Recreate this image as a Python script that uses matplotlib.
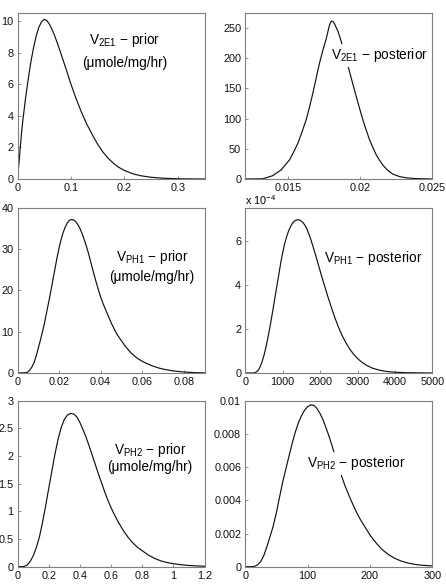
import matplotlib
matplotlib.use("Agg")
import matplotlib.pyplot as plt
from matplotlib.ticker import FuncFormatter

plt.rcParams['font.family'] = ['Liberation Sans', 'DejaVu Sans']
plt.rcParams['mathtext.fontset'] = 'custom'
plt.rcParams['mathtext.rm'] = 'Liberation Sans'

# ---- data ----
v2e1_prior_x = [0, 0.0025, 0.005, 0.0075, 0.01, 0.0125, 0.015, 0.02, 0.025, 0.03, 0.035, 0.04,
                0.045, 0.05, 0.055, 0.06, 0.065, 0.07, 0.075, 0.08, 0.09, 0.1, 0.11, 0.12,
                0.13, 0.14, 0.15, 0.16, 0.17, 0.18, 0.19, 0.2, 0.215, 0.23, 0.25, 0.27,
                0.29, 0.31, 0.33, 0.35]
v2e1_prior_y = [0, 0.9, 1.9, 2.9, 3.7, 4.4, 5.1, 6.3, 7.4, 8.3, 9.05, 9.6,
                9.95, 10.1, 10.02, 9.78, 9.43, 9.02, 8.56, 8.06, 7.05, 6.0, 5.05, 4.2,
                3.45, 2.8, 2.2, 1.7, 1.3, 0.98, 0.73, 0.54, 0.34, 0.21, 0.11, 0.055,
                0.025, 0.01, 0.004, 0.001]

v2e1_post_x = [0.012, 0.013213, 0.013909, 0.01449, 0.01507, 0.015348, 0.01565, 0.015928,
               0.01623, 0.016462, 0.016694, 0.016926, 0.017158, 0.01739, 0.017622, 0.017761,
               0.017854, 0.017923, 0.017993, 0.018086, 0.018202, 0.018318, 0.018434, 0.01855,
               0.018666, 0.018898, 0.019014, 0.019246, 0.019478, 0.01971, 0.019942, 0.020174,
               0.020406, 0.020638, 0.02087, 0.021102, 0.021334, 0.021566, 0.021914, 0.022262,
               0.022726, 0.02319, 0.023886, 0.025]
v2e1_post_y = [0, 0.3, 5.5, 15, 31.5, 44, 59, 77,
               98, 119, 142, 167, 192, 213, 232, 246,
               255, 259, 261.5, 261, 257, 251, 245, 237,
               228, 208, 198, 178, 157, 137, 117, 98,
               81, 65, 52, 40, 31, 23, 14, 8,
               4, 2, 0.6, 0]

vph1_prior_x = [0, 0.004, 0.005, 0.006, 0.007, 0.008, 0.009, 0.01, 0.011, 0.012, 0.013, 0.014,
                0.015, 0.016, 0.017, 0.018, 0.019, 0.02, 0.021, 0.022, 0.023, 0.024, 0.025,
                0.026, 0.027, 0.028, 0.029, 0.03, 0.031, 0.032, 0.033, 0.034, 0.035, 0.036,
                0.037, 0.038, 0.039, 0.04, 0.041, 0.042, 0.043, 0.044, 0.045, 0.046, 0.047,
                0.048, 0.05, 0.052, 0.054, 0.056, 0.058, 0.06, 0.062, 0.065, 0.068, 0.071,
                0.075, 0.08, 0.085, 0.09]
vph1_prior_y = [0, 0.05, 0.25, 0.75, 1.5, 2.6, 4.1, 6.0, 7.9, 9.9, 12.1, 14.6,
                17.1, 19.7, 22.4, 25.1, 27.8, 30.2, 32.3, 34.0, 35.3, 36.3, 36.9,
                37.1, 37.0, 36.6, 35.9, 35.0, 33.8, 32.4, 30.9, 29.2, 27.3, 25.4,
                23.5, 21.7, 20.0, 18.4, 17.0, 15.8, 14.6, 13.4, 12.2, 11.2, 10.2,
                9.25, 7.8, 6.4, 5.2, 4.25, 3.45, 2.85, 2.33, 1.7, 1.2, 0.85,
                0.5, 0.24, 0.09, 0.02]

vph1_post_x = [0, 200, 250, 300, 350, 400, 450, 500, 550, 600, 650, 700, 750, 800, 850, 900,
               950, 1000, 1050, 1100, 1150, 1200, 1250, 1300, 1350, 1400, 1450, 1500, 1550,
               1600, 1650, 1700, 1750, 1800, 1850, 1900, 1950, 2000, 2050, 2100, 2200, 2300,
               2400, 2500, 2600, 2700, 2800, 2900, 3000, 3100, 3250, 3400, 3600, 3800, 4000,
               4300, 4600, 5000]
vph1_post_y = [0, 0, 0.01, 0.05, 0.13, 0.30, 0.52, 0.80, 1.15, 1.57, 2.0, 2.48, 2.98, 3.5, 4.0, 4.5,
               5.02, 5.46, 5.84, 6.15, 6.4, 6.6, 6.76, 6.86, 6.92, 6.95, 6.93, 6.88, 6.8,
               6.68, 6.51, 6.3, 6.06, 5.79, 5.51, 5.22, 4.93, 4.63, 4.34, 4.06, 3.5, 2.98,
               2.48, 2.04, 1.66, 1.34, 1.07, 0.84, 0.66, 0.51, 0.34, 0.22, 0.12, 0.065, 0.035,
               0.015, 0.006, 0]  # x 1e-4

vph2_prior_x = [0, 0.04, 0.06, 0.08, 0.1, 0.12, 0.14, 0.16, 0.18, 0.2, 0.22, 0.24, 0.26, 0.28,
                0.3, 0.32, 0.34, 0.36, 0.38, 0.4, 0.42, 0.44, 0.46, 0.48, 0.5, 0.52, 0.54,
                0.56, 0.58, 0.6, 0.62, 0.65, 0.68, 0.71, 0.74, 0.77, 0.8, 0.84, 0.88, 0.92,
                0.96, 1.0, 1.05, 1.1, 1.15, 1.2]
vph2_prior_y = [0, 0.003, 0.025, 0.09, 0.19, 0.34, 0.53, 0.79, 1.09, 1.41, 1.72, 2.03, 2.30, 2.51,
                2.66, 2.74, 2.77, 2.76, 2.71, 2.61, 2.48, 2.34, 2.18, 2.01, 1.84, 1.67, 1.51,
                1.35, 1.2, 1.07, 0.95, 0.79, 0.65, 0.53, 0.43, 0.35, 0.29, 0.21, 0.15, 0.105,
                0.075, 0.055, 0.035, 0.022, 0.014, 0.009]

vph2_post_x = [0, 10, 15, 20, 25, 30, 35, 40, 45, 50, 55, 60, 65, 70, 75, 80, 85, 90, 95, 100,
               105, 110, 115, 120, 125, 130, 135, 140, 145, 150, 155, 160, 165, 170, 175, 180,
               185, 190, 200, 210, 220, 230, 240, 250, 260, 270, 280, 290, 300]
vph2_post_y = [0, 0, 0.00002, 0.00012, 0.00032, 0.0007, 0.00125, 0.00185, 0.00248, 0.00328,
               0.0042, 0.0051, 0.00587, 0.00665, 0.0074, 0.00808, 0.00865, 0.00908, 0.00942,
               0.00964, 0.00975, 0.00972, 0.00953, 0.00922, 0.00882, 0.00832, 0.00778, 0.00718,
               0.00655, 0.00595, 0.0054, 0.00487, 0.00441, 0.00397, 0.00355, 0.00316, 0.00282,
               0.00251, 0.00191, 0.00142, 0.00102, 0.00072, 0.0005, 0.00034, 0.00023, 0.00015,
               0.0001, 0.00007, 0.00005]

W, H = 446, 587
fig = plt.figure(figsize=(W / 100, H / 100), dpi=100)

lx, rx, aw = 17.5 / W, 245.3 / W, 187 / W
rows = [(1 - 179 / H, 166 / H), (1 - 373 / H, 165.5 / H), (1 - 566.7 / H, 166 / H)]

tick_fs = 7.8
txt_fs = 9.8
gray = '#7f7f7f'


def make_ax(x0, row):
    b, h = rows[row]
    ax = fig.add_axes([x0, b, aw, h])
    for s in ax.spines.values():
        s.set_color(gray)
        s.set_linewidth(0.8)
    ax.tick_params(direction='in', length=2, width=0.6, color=gray, labelsize=tick_fs,
                   pad=3, labelcolor='#111111')
    return ax


lw = 0.85
lc = '#111111'
bb = dict(facecolor='white', edgecolor='none', pad=2)

# Row 1 left
ax = make_ax(lx, 0)
ax.plot(v2e1_prior_x, v2e1_prior_y, color=lc, lw=lw)
ax.set_xlim(0, 0.35)
ax.set_ylim(0, 10.5)
ax.set_xticks([0, 0.1, 0.2, 0.3])
ax.set_xticklabels(['0', '0.1', '0.2', '0.3'])
ax.set_yticks([0, 2, 4, 6, 8, 10])
ax.text(0.2, 8.8, r'V$_{\mathregular{2E1}}$ − prior', ha='center', va='center', fontsize=txt_fs)
ax.text(0.2, 7.35, '(μmole/mg/hr)', ha='center', va='center', fontsize=txt_fs)

# Row 1 right
ax = make_ax(rx, 0)
ax.plot(v2e1_post_x, v2e1_post_y, color=lc, lw=lw)
ax.set_xlim(0.012, 0.025)
ax.set_ylim(0, 275)
ax.set_xticks([0.015, 0.02, 0.025])
ax.set_xticklabels(['0.015', '0.02', '0.025'])
ax.set_yticks([0, 50, 100, 150, 200, 250])
ax.text(0.0213, 205, r'V$_{\mathregular{2E1}}$ − posterior', ha='center', va='center',
        fontsize=txt_fs, bbox=bb)

# Row 2 left
ax = make_ax(lx, 1)
ax.plot(vph1_prior_x, vph1_prior_y, color=lc, lw=lw)
ax.set_xlim(0, 0.09)
ax.set_ylim(0, 40)
ax.set_xticks([0, 0.02, 0.04, 0.06, 0.08])
ax.set_xticklabels(['0', '0.02', '0.04', '0.06', '0.08'])
ax.set_yticks([0, 10, 20, 30, 40])
ax.text(0.0647, 28.1, r'V$_{\mathregular{PH1}}$ − prior', ha='center', va='center', fontsize=txt_fs)
ax.text(0.0647, 23.2, '(μmole/mg/hr)', ha='center', va='center', fontsize=txt_fs)

# Row 2 right
ax = make_ax(rx, 1)
ax.plot(vph1_post_x, [v * 1e-4 for v in vph1_post_y], color=lc, lw=lw)
ax.set_xlim(0, 5000)
ax.set_ylim(0, 7.5e-4)
ax.set_xticks([0, 1000, 2000, 3000, 4000, 5000])
ax.set_yticks([0, 2e-4, 4e-4, 6e-4])
ax.yaxis.set_major_formatter(FuncFormatter(lambda v, p: f'{v * 1e4:g}'))
ax.text(3414, 5.2e-4, r'V$_{\mathregular{PH1}}$ − posterior', ha='center', va='center',
        fontsize=txt_fs, bbox=bb)
ax.text(0.0, 1.005, r'x 10$^{\mathregular{-4}}$', transform=ax.transAxes, ha='left', va='bottom',
        fontsize=tick_fs)

# Row 3 left
ax = make_ax(lx, 2)
ax.plot(vph2_prior_x, vph2_prior_y, color=lc, lw=lw)
ax.set_xlim(0, 1.2)
ax.set_ylim(0, 3)
ax.set_xticks([0, 0.2, 0.4, 0.6, 0.8, 1, 1.2])
ax.set_xticklabels(['0', '0.2', '0.4', '0.6', '0.8', '1', '1.2'])
ax.set_yticks([0, 0.5, 1, 1.5, 2, 2.5, 3])
ax.set_yticklabels(['0', '0.5', '1', '1.5', '2', '2.5', '3'])
ax.text(0.851, 2.11, r'V$_{\mathregular{PH2}}$ − prior', ha='center', va='center', fontsize=txt_fs)
ax.text(0.851, 1.81, '(μmole/mg/hr)', ha='center', va='center', fontsize=txt_fs)

# Row 3 right
ax = make_ax(rx, 2)
ax.plot(vph2_post_x, vph2_post_y, color=lc, lw=lw)
ax.set_xlim(0, 300)
ax.set_ylim(0, 0.01)
ax.set_xticks([0, 100, 200, 300])
ax.set_yticks([0, 0.002, 0.004, 0.006, 0.008, 0.01])
ax.set_yticklabels(['0', '0.002', '0.004', '0.006', '0.008', '0.01'])
ax.text(178, 0.00623, r'V$_{\mathregular{PH2}}$ − posterior', ha='center', va='center',
        fontsize=txt_fs, bbox=bb)

fig.savefig('out.png', dpi=100)
